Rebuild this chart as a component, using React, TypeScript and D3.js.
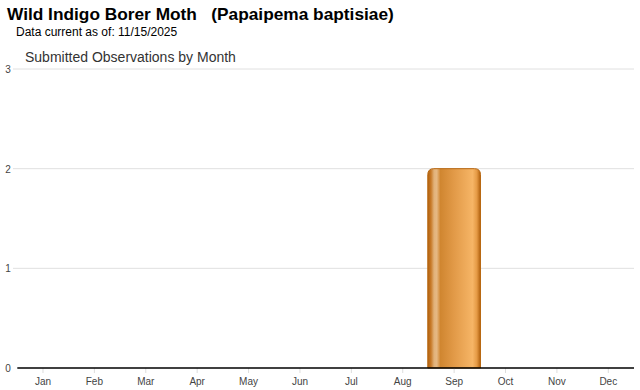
import React from "react";
import * as d3 from "d3";

const months = ["Jan","Feb","Mar","Apr","May","Jun","Jul","Aug","Sep","Oct","Nov","Dec"];
const counts = [0,0,0,0,0,0,0,0,2,0,0,0];
const yTicks = [0,1,2,3];

const W = 640, H = 390;
const left = 17.3, right = 634, top = 69, bottom = 368;

export default function App() {
  const x = d3.scaleBand<string>().domain(months).range([left, right]).padding(0);
  const y = d3.scaleLinear().domain([0, 3]).range([bottom, top]);
  const bw = x.bandwidth() + 1.3;
  const r = 6;
  return (
    <svg width={W} height={H} style={{ position: "absolute", left: 0, top: 0, fontFamily: "Arial, 'Liberation Sans', sans-serif" }}>
      <defs>
        <linearGradient id="barGrad" x1="0" x2="1" y1="0" y2="0">
          <stop offset="0" stopColor="#b0600e" />
          <stop offset="0.06" stopColor="#c87a28" />
          <stop offset="0.12" stopColor="#e2b27a" />
          <stop offset="0.17" stopColor="#e6b883" />
          <stop offset="0.24" stopColor="#d08630" />
          <stop offset="0.5" stopColor="#e29a48" />
          <stop offset="0.85" stopColor="#f6b566" />
          <stop offset="0.93" stopColor="#e59a45" />
          <stop offset="1" stopColor="#b0600e" />
        </linearGradient>
      </defs>
      <rect width={W} height={H} fill="#fff" />
      <text x={7} y={20} fontSize={17.3} fontWeight="bold" fill="#000" style={{ whiteSpace: "pre" }}>
        {"Wild Indigo Borer Moth   (Papaipema baptisiae)"}
      </text>
      <text x={16} y={36} fontSize={12} fill="#000">Data current as of: 11/15/2025</text>
      <text x={25} y={62} fontSize={14} fill="#333">Submitted Observations by Month</text>
      {yTicks.map(t => (
        <g key={t}>
          {t > 0 && <line x1={13} x2={right} y1={y(t)} y2={y(t)} stroke="#e0e0e0" strokeWidth={1} />}
          <text x={8} y={y(t) + 4} fontSize={10} fill="#444" textAnchor="middle">{t}</text>
        </g>
      ))}
      {months.map((m, i) => {
        const cx = x(m)! + x.bandwidth() / 2;
        const v = counts[i];
        const yt = y(v);
        const h = bottom - yt;
        const x0 = cx - bw / 2;
        const path = h > 0
          ? `M${x0},${bottom} L${x0},${yt + r} Q${x0},${yt} ${x0 + r},${yt} L${x0 + bw - r},${yt} Q${x0 + bw},${yt} ${x0 + bw},${yt + r} L${x0 + bw},${bottom} Z`
          : "";
        return (
          <g key={m}>
            {h > 0 && <path d={path} fill="url(#barGrad)" stroke="#b8660f" strokeWidth={1} />}
            <line x1={cx} x2={cx} y1={bottom} y2={bottom + 5} stroke="#ddd" />
            <text x={cx} y={385} fontSize={10} fill="#444" textAnchor="middle">{m}</text>
          </g>
        );
      })}
      <line x1={left} x2={right} y1={bottom} y2={bottom} stroke="#000" strokeWidth={1.5} />
    </svg>
  );
}
